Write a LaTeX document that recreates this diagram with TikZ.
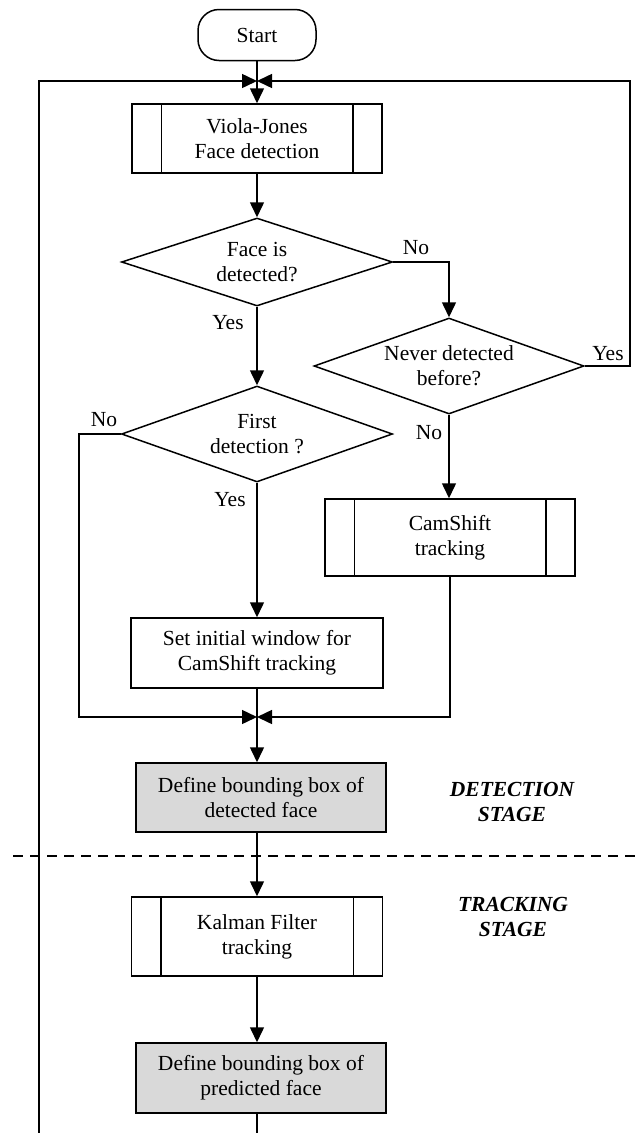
\documentclass[tikz,border=0pt]{standalone}
\usepackage{fontspec}
\setmainfont{Liberation Serif}
\usetikzlibrary{arrows.meta,shapes.geometric}
\tikzset{
	every node/.style={font=\fontsize{21.5}{25}\selectfont, align=center},
	box/.style={draw, line width=1.5pt, inner sep=0pt},
	greybox/.style={box, fill=black!15},
	decision/.style={draw, diamond, aspect=1, inner sep=-22pt, line width=1.5pt},
	terminal/.style={draw, rounded corners=21pt, line width=1.5pt, minimum width=118pt, minimum height=51pt},
	stage/.style={font=\fontsize{21.5}{25}\selectfont\bfseries\itshape},
	flow/.style={line width=1.5pt, -{Triangle[length=15pt,width=14pt]}},
	link/.style={line width=1.5pt},
}
\def\sidebars#1{\draw[link] ([xshift=30pt]#1.north west) -- ([xshift=30pt]#1.south west);
	\draw[link] ([xshift=-30pt]#1.north east) -- ([xshift=-30pt]#1.south east);}

\begin{document}
\begin{tikzpicture}[x=1pt, y=-1pt]
	%%%%% START %%%%%
	\useasboundingbox (0, 0) rectangle (637, 1133);
	
	\node[terminal] (start) at (257, 35) {Start};
	\node[box, minimum width=250pt, minimum height=69pt] (vj) at (257, 138.5) {Viola-Jones\\Face detection};
	\sidebars{vj}
	
	\node[decision, minimum width=271pt, minimum height=88pt] (face) at (257, 262) {Face is\\detected?};
	\node[decision, minimum width=270pt, minimum height=96pt] (never) at (449, 366) {Never detected\\before?};
	\node[decision, minimum width=271pt, minimum height=96pt] (first) at (257, 434) {First\\detection ?};
	
	\node[box, minimum width=250pt, minimum height=77pt] (cam) at (450, 537.5) {CamShift\\tracking};
	\sidebars{cam}
	\node[box, minimum width=252pt, minimum height=70pt] (init) at (257, 653) {Set initial window for\\CamShift tracking};
	
	\node[greybox, minimum width=250pt, minimum height=69pt] (det) at (261, 797.5) {Define bounding box of\\detected face};
	\node[box, minimum width=251pt, minimum height=79pt] (kal) at (257, 936.5) {Kalman Filter\\tracking};
	\sidebars{kal}
	\node[greybox, minimum width=250pt, minimum height=70pt] (pred) at (261, 1078) {Define bounding box of\\predicted face};
	
	\node[stage] (detstage) at (512, 802) {DETECTION\\STAGE};
	\node[stage] (trkstage) at (513, 917) {TRACKING\\STAGE};
	
	% yes / no labels
	\node (noface) at (416, 248) {No};
	\node (yesface) at (228, 323) {Yes};
	\node (yesnever) at (608, 354) {Yes};
	\node (nonever) at (429, 433) {No};
	\node (nofirst) at (104, 420) {No};
	\node (yesfirst) at (230, 500) {Yes};
	
	\coordinate (topjoin) at (257, 81);
	\coordinate (midjoin) at (257, 717);
	\coordinate (leftloop) at (39, 1133);
	\coordinate (rightloop) at (630, 366);
	\coordinate (nofirstend) at (79, 434);
	\coordinate (bottom) at (257, 1133);
	
	% main column
	\draw[flow] (start.south) -- (vj.north);
	\draw[flow] (leftloop) |- (topjoin);
	\draw[flow] (never.east) -- (rightloop) |- (topjoin);
	\draw[flow] (vj.south) -- (face.north);
	\draw[flow] (face.east) -| (never.north);
	\draw[flow] (face.south) -- (first.north);
	\draw[flow] (never.south) -- (never.south |- cam.north);
	\draw[flow] (first.south) -- (init.north);
	\draw[flow] (first.west) -- (nofirstend) |- (midjoin);
	\draw[flow] (cam.south) |- (midjoin);
	\draw[flow] (init.south) -- (init.south |- det.north);
	\draw[flow] (kal.north |- det.south) -- (kal.north);
	\draw[flow] (kal.south) -- (kal.south |- pred.north);
	\draw[link] (kal.south |- pred.south) -- (bottom);
	
	\draw[link, dash pattern=on 10pt off 7pt] (13, 856) -- (637, 856);
	%%%%% END %%%%%
\end{tikzpicture}
\end{document}
